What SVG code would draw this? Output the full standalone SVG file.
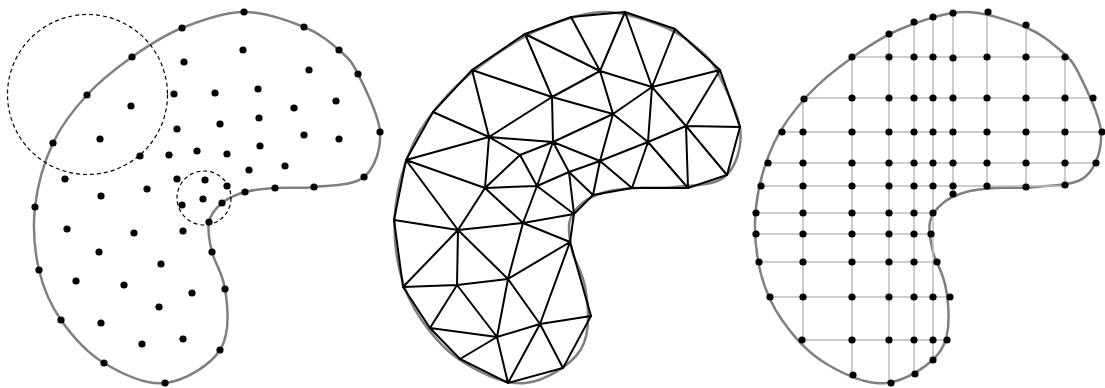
<svg xmlns="http://www.w3.org/2000/svg" width="1105" height="388" viewBox="0 0 1105 388">
<style>
.shape{fill:none;stroke:#808080;stroke-width:2.5}
.dot{fill:#000}
.dash{fill:none;stroke:#000;stroke-width:1.2;stroke-dasharray:4 3}
.tri{stroke:#000;stroke-width:2;stroke-linecap:round;fill:none}
.grid{stroke:#bdbdbd;stroke-width:1.5;fill:none}
</style>
<defs>
<path id="shp" d="M244,12 C264.33,11.83 288.17,20.67 304,27 C319.83,33.33 330,42.17 339,50 C348,57.83 351.17,60.33 358,74 C364.83,87.67 379,114.83 380,132 C381,149.17 375,167.83 364,177 C353,186.17 328.83,185.17 314,187 C299.17,188.83 286.5,187.17 275,188 C263.5,188.83 253.83,189.5 245,192 C236.17,194.5 228,198 222,203 C216,208 210.67,213.83 209,222 C207.33,230.17 209.33,240.83 212,252 C214.67,263.17 222,271 225,289 C228,307 230,334.33 220,350 C210,365.67 184.33,380.83 165,383 C145.67,385.17 121.33,373.5 104,363 C86.67,352.5 71.83,335.5 61,320 C50.17,304.5 43.33,288.83 39,270 C34.67,251.17 32.67,228.17 35,207 C37.33,185.83 44.33,161.67 53,143 C61.67,124.33 73.83,109.33 87,95 C100.17,80.67 116.17,68.17 132,57 C147.83,45.83 163.33,35.5 182,28 C200.67,20.5 223.67,12.17 244,12 Z"/>
</defs>

<g id="panel1">
<use href="#shp" class="shape"/>
<circle class="dash" cx="87.5" cy="94.5" r="80"/>
<circle class="dash" cx="204" cy="198" r="27"/>
<g class="dot">
<circle cx="244" cy="12" r="3.6"/><circle cx="304" cy="27" r="3.6"/><circle cx="339" cy="50" r="3.6"/><circle cx="358" cy="74" r="3.6"/><circle cx="380" cy="132" r="3.6"/><circle cx="364" cy="177" r="3.6"/><circle cx="314" cy="187" r="3.6"/><circle cx="275" cy="188" r="3.6"/><circle cx="245" cy="192" r="3.6"/><circle cx="222" cy="203" r="3.6"/><circle cx="209" cy="222" r="3.6"/><circle cx="212" cy="252" r="3.6"/><circle cx="225" cy="289" r="3.6"/><circle cx="220" cy="350" r="3.6"/><circle cx="165" cy="383" r="3.6"/><circle cx="104" cy="363" r="3.6"/><circle cx="61" cy="320" r="3.6"/><circle cx="39" cy="270" r="3.6"/><circle cx="35" cy="207" r="3.6"/><circle cx="53" cy="143" r="3.6"/><circle cx="87" cy="95" r="3.6"/><circle cx="132" cy="57" r="3.6"/><circle cx="182" cy="28" r="3.6"/>
<circle cx="184" cy="62" r="3.6"/><circle cx="243" cy="50" r="3.6"/><circle cx="309" cy="70" r="3.6"/><circle cx="174" cy="94" r="3.6"/><circle cx="131" cy="106" r="3.6"/><circle cx="215" cy="93" r="3.6"/><circle cx="258" cy="89" r="3.6"/><circle cx="336" cy="101" r="3.6"/><circle cx="294" cy="108" r="3.6"/><circle cx="177" cy="129" r="3.6"/><circle cx="220" cy="124" r="3.6"/><circle cx="259" cy="118" r="3.6"/><circle cx="304" cy="135" r="3.6"/><circle cx="339" cy="139" r="3.6"/><circle cx="100" cy="139" r="3.6"/><circle cx="140" cy="156" r="3.6"/><circle cx="169" cy="155" r="3.6"/><circle cx="197" cy="151" r="3.6"/><circle cx="227" cy="154" r="3.6"/><circle cx="260" cy="146" r="3.6"/><circle cx="285" cy="166" r="3.6"/><circle cx="249" cy="170" r="3.6"/><circle cx="65" cy="179" r="3.6"/><circle cx="177" cy="179" r="3.6"/><circle cx="147" cy="189" r="3.6"/><circle cx="205" cy="180" r="3.6"/><circle cx="227" cy="186" r="3.6"/><circle cx="101" cy="196" r="3.6"/><circle cx="182" cy="205" r="3.6"/><circle cx="203" cy="199" r="3.6"/><circle cx="67" cy="229" r="3.6"/><circle cx="134" cy="233" r="3.6"/><circle cx="183" cy="231" r="3.6"/><circle cx="99" cy="252" r="3.6"/><circle cx="161" cy="264" r="3.6"/><circle cx="76" cy="281" r="3.6"/><circle cx="124" cy="285" r="3.6"/><circle cx="192" cy="293" r="3.6"/><circle cx="159" cy="307" r="3.6"/><circle cx="101" cy="323" r="3.6"/><circle cx="183" cy="339" r="3.6"/><circle cx="142" cy="344" r="3.6"/>
</g>
</g>

<g id="panel2">
<use href="#shp" class="shape" x="360.5"/>
<g id="mesh" class="tri">
<polygon points="525,34 571,17 625,12 675,29 720,70 740,127 727,175 688,188 632,188 593,195 574,214 570,242 591,316 563,368 508,383 460,359 430,328 403,287 394,220 406,160 433,112 472,70"/>
<path d="M525,34L552,97 M525,34L600,71 M472,70L552,97 M472,70L489,137 M433,112L489,137 M406,160L489,137 M406,160L485,188 M406,160L458,230
M552,97L489,137 M552,97L553,142 M552,97L600,71 M552,97L613,114 M489,137L553,142 M489,137L520,155 M489,137L485,188
M553,142L520,155 M553,142L537,186 M553,142L613,114 M553,142L600,161 M553,142L569,172 M520,155L485,188 M520,155L537,186
M485,188L537,186 M485,188L458,230 M485,188L523,223 M537,186L523,223 M537,186L569,172 M537,186L574,214 M569,172L600,161 M569,172L593,195 M569,172L574,214
M571,17L600,71 M625,12L600,71 M625,12L652,87 M675,29L652,87 M720,70L652,87 M720,70L686,126 M686,126L740,127 M686,126L727,175 M686,126L688,188 M686,126L652,87 M686,126L648,142
M652,87L600,71 M652,87L613,114 M652,87L648,142 M600,71L613,114 M613,114L648,142 M613,114L600,161 M648,142L600,161 M648,142L632,188 M648,142L688,188 M600,161L632,188 M600,161L593,195
M394,220L458,230 M458,230L523,223 M523,223L574,214 M523,223L570,242 M458,230L403,287 M458,230L457,285 M458,230L508,279 M523,223L508,279 M570,242L508,279 M570,242L540,324
M403,287L457,285 M457,285L508,279 M457,285L430,328 M457,285L497,337 M508,279L497,337 M508,279L540,324 M430,328L497,337 M460,359L497,337 M497,337L508,383 M497,337L540,324 M540,324L508,383 M540,324L563,368 M540,324L591,316"/>
</g>
</g>

<g id="panel3">
<use href="#shp" class="shape" x="721"/>
<g id="gridlines" class="grid">
<path d="M803,100V340 M852,57V375 M889,34V383 M914,22V374 M933,17V360 M953,13V194 M987,12V186 M1026,25V187 M1065,57V184
M852,57H1065 M804,98H1093 M782,132H1102 M768,163H1096 M761,186H1065 M756,213H933 M756,234H931 M759,262H937 M770,297H950 M802,340H947"/>
</g>
<g class="dot">
<circle cx="914" cy="22" r="3.6"/><circle cx="889" cy="34" r="3.6"/><circle cx="933" cy="17" r="3.6"/><circle cx="953" cy="13" r="3.6"/><circle cx="988" cy="12" r="3.6"/><circle cx="1026" cy="25" r="3.6"/>
<circle cx="852" cy="57" r="3.6"/><circle cx="889" cy="57" r="3.6"/><circle cx="914" cy="57" r="3.6"/><circle cx="933" cy="57" r="3.6"/><circle cx="953" cy="58" r="3.6"/><circle cx="987" cy="57" r="3.6"/><circle cx="1026" cy="57" r="3.6"/><circle cx="1065" cy="57" r="3.6"/>
<circle cx="804" cy="99" r="3.6"/><circle cx="852" cy="98" r="3.6"/><circle cx="889" cy="98" r="3.6"/><circle cx="914" cy="98" r="3.6"/><circle cx="933" cy="98" r="3.6"/><circle cx="953" cy="98" r="3.6"/><circle cx="987" cy="98" r="3.6"/><circle cx="1026" cy="98" r="3.6"/><circle cx="1065" cy="98" r="3.6"/><circle cx="1093" cy="98" r="3.6"/>
<circle cx="782" cy="132" r="3.6"/><circle cx="803" cy="132" r="3.6"/><circle cx="852" cy="132" r="3.6"/><circle cx="889" cy="132" r="3.6"/><circle cx="914" cy="132" r="3.6"/><circle cx="933" cy="132" r="3.6"/><circle cx="953" cy="132" r="3.6"/><circle cx="987" cy="132" r="3.6"/><circle cx="1026" cy="132" r="3.6"/><circle cx="1065" cy="132" r="3.6"/><circle cx="1102" cy="132" r="3.6"/>
<circle cx="768" cy="163" r="3.6"/><circle cx="803" cy="163" r="3.6"/><circle cx="852" cy="163" r="3.6"/><circle cx="889" cy="163" r="3.6"/><circle cx="914" cy="163" r="3.6"/><circle cx="933" cy="163" r="3.6"/><circle cx="953" cy="163" r="3.6"/><circle cx="987" cy="163" r="3.6"/><circle cx="1026" cy="163" r="3.6"/><circle cx="1065" cy="163" r="3.6"/><circle cx="1096" cy="163" r="3.6"/>
<circle cx="761" cy="186" r="3.6"/><circle cx="803" cy="186" r="3.6"/><circle cx="852" cy="186" r="3.6"/><circle cx="889" cy="186" r="3.6"/><circle cx="914" cy="186" r="3.6"/><circle cx="933" cy="186" r="3.6"/><circle cx="953" cy="186" r="3.6"/><circle cx="987" cy="186" r="3.6"/><circle cx="1026" cy="187" r="3.6"/><circle cx="1065" cy="185" r="3.6"/><circle cx="953" cy="194" r="3.6"/>
<circle cx="756" cy="213" r="3.6"/><circle cx="803" cy="213" r="3.6"/><circle cx="852" cy="213" r="3.6"/><circle cx="889" cy="213" r="3.6"/><circle cx="914" cy="213" r="3.6"/><circle cx="933" cy="213" r="3.6"/>
<circle cx="756" cy="234" r="3.6"/><circle cx="803" cy="234" r="3.6"/><circle cx="852" cy="234" r="3.6"/><circle cx="889" cy="234" r="3.6"/><circle cx="914" cy="234" r="3.6"/><circle cx="931" cy="234" r="3.6"/>
<circle cx="759" cy="262" r="3.6"/><circle cx="803" cy="262" r="3.6"/><circle cx="852" cy="262" r="3.6"/><circle cx="889" cy="262" r="3.6"/><circle cx="914" cy="262" r="3.6"/><circle cx="937" cy="262" r="3.6"/>
<circle cx="770" cy="297" r="3.6"/><circle cx="803" cy="297" r="3.6"/><circle cx="852" cy="297" r="3.6"/><circle cx="889" cy="297" r="3.6"/><circle cx="914" cy="297" r="3.6"/><circle cx="933" cy="297" r="3.6"/><circle cx="950" cy="297" r="3.6"/>
<circle cx="802" cy="340" r="3.6"/><circle cx="852" cy="340" r="3.6"/><circle cx="889" cy="340" r="3.6"/><circle cx="914" cy="340" r="3.6"/><circle cx="933" cy="340" r="3.6"/><circle cx="947" cy="340" r="3.6"/>
<circle cx="853" cy="375" r="3.6"/><circle cx="891" cy="383" r="3.6"/><circle cx="915" cy="374" r="3.6"/><circle cx="933" cy="360" r="3.6"/>
</g>
</g>
</svg>
